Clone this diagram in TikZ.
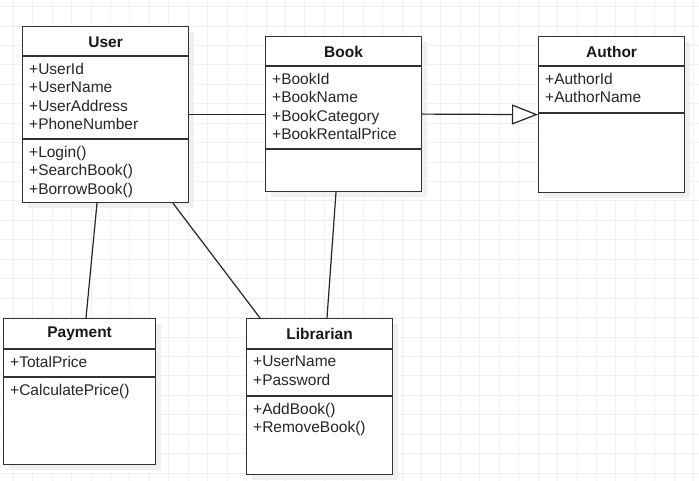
\documentclass[tikz,border=0pt]{standalone}
\usepackage{fontspec}
\setmainfont{Liberation Sans}
\usetikzlibrary{calc}
\usetikzlibrary{arrows.meta}
\usetikzlibrary{shadows}

\tikzset{
  umlbox/.style={draw=black!80, line width=1.2pt, fill=white, inner sep=0pt, anchor=north west,
    drop shadow={shadow xshift=5pt, shadow yshift=-5pt, fill=black!6, opacity=1}},
  umlname/.style={inner sep=0pt, text=black!90, font=\fontsize{15.5}{18.3}\selectfont\bfseries},
  umltext/.style={inner sep=0pt, anchor=north west, align=left, text=black!85,
    font=\fontsize{15.5}{18.3}\selectfont},
  divline/.style={draw=black!80, line width=1.2pt},
  assoc/.style={draw=black!85, line width=1.2pt},
  inherit/.style={assoc, -{Triangle[open, length=26pt, width=20pt, fill=white]}},
  gridline/.style={draw=black!6, line width=1pt},
}

\begin{document}
\begin{tikzpicture}[x=1pt,y=-1pt]
\useasboundingbox (0,0) rectangle (699,481);
\begin{scope}
\clip (0,0) rectangle (699,481);
\foreach \i in {0,...,36} \draw[gridline] ({13.3+19.44*\i},0) -- ({13.3+19.44*\i},481);
\foreach \i in {0,...,25} \draw[gridline] (0,{6.6+19.44*\i}) -- (699,{6.6+19.44*\i});
\end{scope}

% class boxes
\node[umlbox, minimum width=166pt, minimum height=176pt] (user) at (22,26) {};
\node[umlbox, minimum width=156pt, minimum height=155pt] (book) at (265,36) {};
\node[umlbox, minimum width=146pt, minimum height=156pt] (author) at (538,36) {};
\node[umlbox, minimum width=152pt, minimum height=146pt] (payment) at (3,318) {};
\node[umlbox, minimum width=146pt, minimum height=156pt] (librarian) at (246,318) {};

% User
\draw[divline] ($(user.north west)+(0,30)$) -- ($(user.north east)+(0,30)$);
\draw[divline] ($(user.north west)+(0,113)$) -- ($(user.north east)+(0,113)$);
\node[umlname] (user name) at ($(user.north)+(0,16)$) {User};
\node[umltext] (user attr) at ($(user.north west)+(7,37)$) {+UserId\\+UserName\\+UserAddress\\+PhoneNumber};
\node[umltext] (user ops) at ($(user.north west)+(7,120)$) {+Login()\\+SearchBook()\\+BorrowBook()};

% Book
\draw[divline] ($(book.north west)+(0,30)$) -- ($(book.north east)+(0,30)$);
\draw[divline] ($(book.north west)+(0,113)$) -- ($(book.north east)+(0,113)$);
\node[umlname] (book name) at ($(book.north)+(0,16)$) {Book};
\node[umltext] (book attr) at ($(book.north west)+(7,37)$) {+BookId\\+BookName\\+BookCategory\\+BookRentalPrice};

% Author
\draw[divline] ($(author.north west)+(0,30)$) -- ($(author.north east)+(0,30)$);
\draw[divline] ($(author.north west)+(0,77)$) -- ($(author.north east)+(0,77)$);
\node[umlname] (author name) at ($(author.north)+(0,16)$) {Author};
\node[umltext] (author attr) at ($(author.north west)+(7,37)$) {+AuthorId\\+AuthorName};

% Payment
\draw[divline] ($(payment.north west)+(0,31)$) -- ($(payment.north east)+(0,31)$);
\draw[divline] ($(payment.north west)+(0,59)$) -- ($(payment.north east)+(0,59)$);
\node[umlname] (payment name) at ($(payment.north)+(0,16)$) {Payment};
\node[umltext] (payment attr) at ($(payment.north west)+(7,38)$) {+TotalPrice};
\node[umltext] (payment ops) at ($(payment.north west)+(7,66)$) {+CalculatePrice()};

% Librarian
\draw[divline] ($(librarian.north west)+(0,31)$) -- ($(librarian.north east)+(0,31)$);
\draw[divline] ($(librarian.north west)+(0,78)$) -- ($(librarian.north east)+(0,78)$);
\node[umlname] (librarian name) at ($(librarian.north)+(0,16)$) {Librarian};
\node[umltext] (librarian attr) at ($(librarian.north west)+(7,38)$) {+UserName\\+Password};
\node[umltext] (librarian ops) at ($(librarian.north west)+(7,85)$) {+AddBook()\\+RemoveBook()};

% connectors
\draw[assoc] (user.east) -- (user.east -| book.west);
\draw[inherit] (book.east) -- (author.west);
\draw[assoc] ($(user.south west)+(75,0)$) -- ($(payment.north west)+(83,0)$);
\draw[assoc] ($(user.south west)+(151,0)$) -- ($(librarian.north west)+(14,0)$);
\draw[assoc] ($(book.south west)+(71,0)$) -- ($(librarian.north west)+(81,0)$);
\end{tikzpicture}
\end{document}
